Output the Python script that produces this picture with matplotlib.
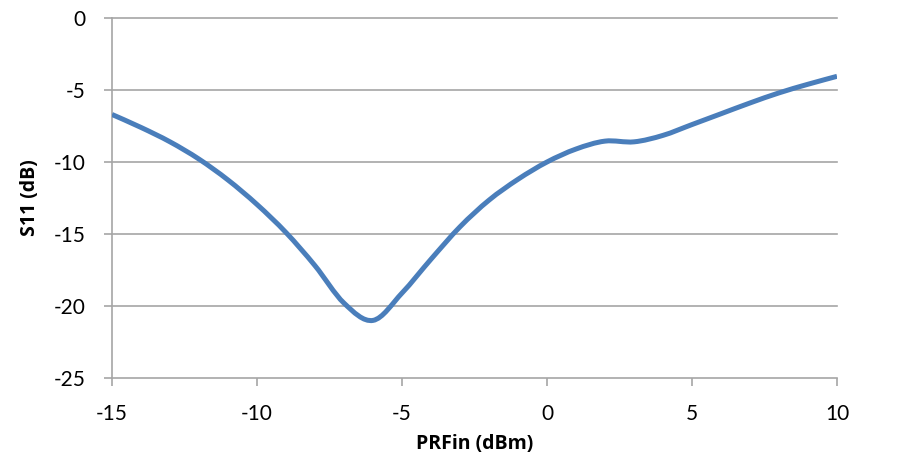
import numpy as np
import matplotlib.pyplot as plt
from matplotlib.path import Path
from matplotlib.patches import PathPatch

# S11 versus input power
prfin = [-15, -14, -13, -12, -11, -10, -9, -8, -7, -6, -5, -4, -3,
         -2, -1, 0, 1, 2, 3, 4, 5, 6, 7, 8, 9, 10]
s11 = [-6.7, -7.6, -8.6, -9.8, -11.25, -12.95, -14.9, -17.2, -19.8, -21.0,
       -19.1, -16.75, -14.5, -12.65, -11.2, -10.0, -9.1, -8.55, -8.6, -8.15,
       -7.4, -6.65, -5.9, -5.2, -4.6, -4.05]

x_ticks = [-15, -10, -5, 0, 5, 10]
y_ticks = [0, -5, -10, -15, -20, -25]

line_color = "#4a7ebb"
grid_color = "#a6a6a6"


def smooth_path(xs, ys):
    # Excel style smoothed line: cubic Bezier between neighbours
    pts = np.column_stack([xs, ys])
    verts = [pts[0]]
    codes = [Path.MOVETO]
    n = len(pts)
    for i in range(n - 1):
        p0 = pts[max(i - 1, 0)]
        p1 = pts[i]
        p2 = pts[i + 1]
        p3 = pts[min(i + 2, n - 1)]
        c1 = p1 + (p2 - p0) / 6.0
        c2 = p2 - (p3 - p1) / 6.0
        verts += [c1, c2, p2]
        codes += [Path.CURVE4] * 3
    return Path(verts, codes)


fig = plt.figure(figsize=(8.97, 4.69), dpi=100)
ax = fig.add_axes([112 / 897, 1 - 378 / 469, (837 - 112) / 897, (378 - 18) / 469])

ax.add_patch(PathPatch(smooth_path(prfin, s11), facecolor="none",
                       edgecolor=line_color, lw=3.6, capstyle="butt",
                       joinstyle="round", zorder=3))

ax.set_xlim(-15, 10)
ax.set_ylim(-25, 0)
ax.set_xticks(x_ticks)
ax.set_yticks(y_ticks)
ax.set_xticklabels([str(v) for v in x_ticks])
ax.set_yticklabels([str(v) for v in y_ticks])

for v in y_ticks:
    ax.axhline(v, color=grid_color, lw=1.2, zorder=1, clip_on=False)

for side in ["top", "right", "bottom"]:
    ax.spines[side].set_visible(False)
ax.spines["left"].set_color(grid_color)
ax.spines["left"].set_linewidth(1.2)

ax.tick_params(axis="y", length=6, width=1.2, color=grid_color, pad=13,
               labelsize=15, labelcolor="#000000")
ax.tick_params(axis="x", length=6, width=1.2, color=grid_color, pad=13,
               labelsize=15, labelcolor="#000000")
for lab in ax.get_xticklabels() + ax.get_yticklabels():
    lab.set_family("Lato")

ax.set_xlabel("PRFin (dBm)", fontsize=14, fontweight="bold",
              family="Open Sans", labelpad=7)
ax.set_ylabel("S11 (dB)", fontsize=14, fontweight="bold",
              family="Open Sans", labelpad=10)

fig.savefig("out.png", dpi=100, facecolor="white")
